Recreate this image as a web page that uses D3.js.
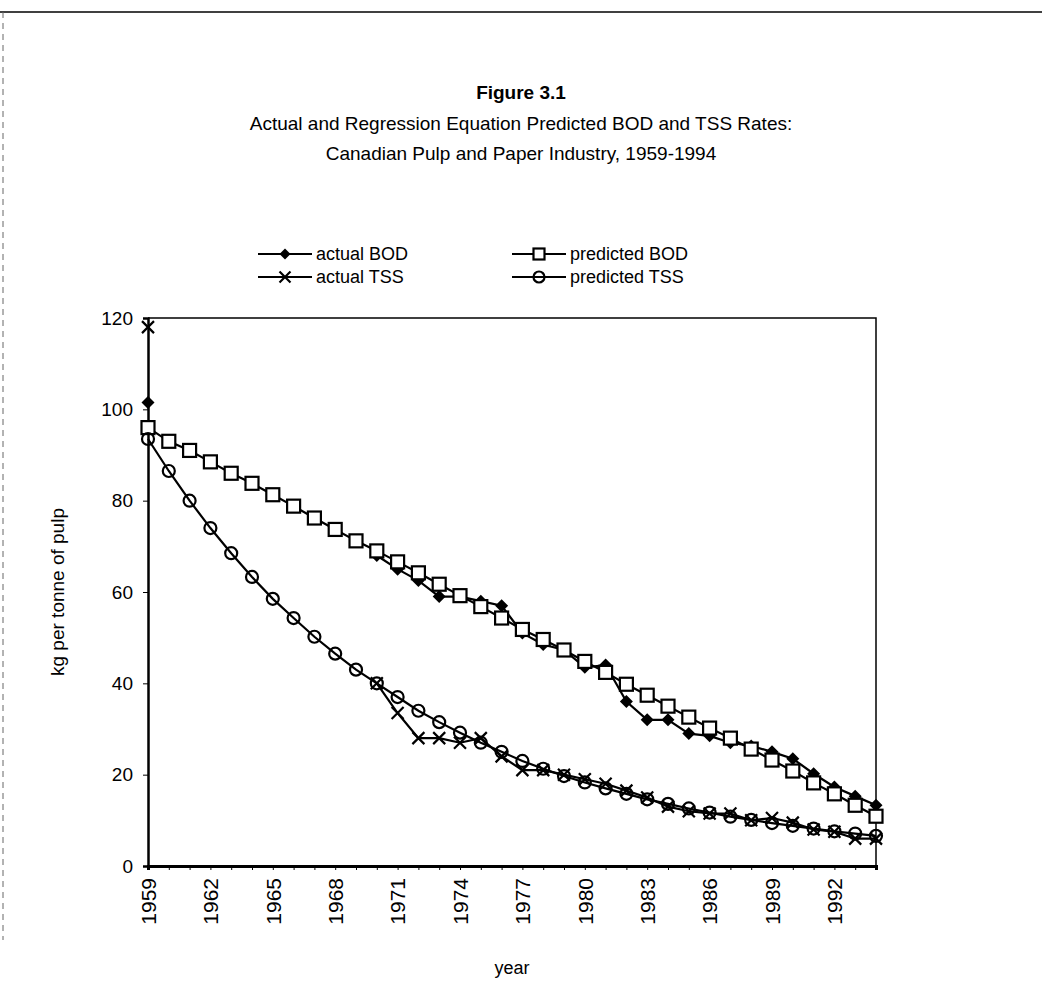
<!DOCTYPE html>
<html>
<head>
<meta charset="utf-8">
<script src="https://cdn.jsdelivr.net/npm/d3@7"></script>
<style>
  body { margin: 0; background: #fff; }
  text { font-family: "Liberation Sans", Arial, sans-serif; fill: #000; }
</style>
</head>
<body>
<svg id="chart" width="1042" height="992"></svg>
<script>
const years = d3.range(1959, 1995);
const yearTicks = [1959, 1962, 1965, 1968, 1971, 1974, 1977, 1980, 1983, 1986, 1989, 1992];
const valueTicks = [0, 20, 40, 60, 80, 100, 120];

// null = no observation for that year
const actualBOD = [101.5, null, null, null, null, null, null, null, null, null, null,
  68, 65, 62.5, 59, 59, 58, 57, 51, 48.5, 47.3, 43.5, 44, 36, 32, 32, 29, 28.5, 27, 26.3, 25, 23.5, 20.2, 17.3, 15.3, 13.3];
const actualTSS = [118, null, null, null, null, null, null, null, null, null, null,
  40, 33.5, 28, 28, 27, 28, 24, 21, 21, 20, 19, 18, 16.5, 15, 13, 12, 11.5, 11.5, 10, 10.5, 9.5, 8, 7.5, 6, 6];
const predictedBOD = [96, 93, 91, 88.5, 86, 83.8, 81.3, 78.8, 76.2, 73.7, 71.2, 69, 66.6, 64.2, 61.7, 59.2, 56.8, 54.3,
  51.8, 49.6, 47.3, 44.8, 42.4, 39.8, 37.4, 35, 32.6, 30.2, 28, 25.6, 23.2, 20.8, 18.2, 15.8, 13.3, 10.9];
const predictedTSS = [93.5, 86.5, 80, 74, 68.5, 63.3, 58.5, 54.3, 50.2, 46.5, 43, 40, 37, 34, 31.5, 29.2, 27, 25,
  23, 21.3, 19.7, 18.3, 17, 15.8, 14.6, 13.6, 12.6, 11.7, 10.8, 10.1, 9.4, 8.8, 8.2, 7.6, 7.1, 6.6];

const seriesNames = ["actual BOD", "actual TSS", "predicted BOD", "predicted TSS"];
const seriesValues = [actualBOD, actualTSS, predictedBOD, predictedTSS];
const seriesMarkers = ["diamond", "cross", "square", "circle"];

const svg = d3.select("#chart");
const margin = { top: 318, right: 166, bottom: 126, left: 148 };
const width = 1042 - margin.left - margin.right;
const height = 992 - margin.top - margin.bottom;

// scan frame edges
svg.append("line").attr("x1", 0).attr("x2", 1042).attr("y1", 12).attr("y2", 12)
  .attr("stroke", "#000").attr("stroke-width", 1.5);
svg.append("line").attr("x1", 3).attr("x2", 3).attr("y1", 12).attr("y2", 940)
  .attr("stroke", "#666").attr("stroke-width", 1).attr("stroke-dasharray", "6,5");

// titles
const titles = [
  ["Figure 3.1", 99, "bold"],
  ["Actual and Regression Equation Predicted BOD and TSS Rates:", 130, "normal"],
  ["Canadian Pulp and Paper Industry, 1959-1994", 160, "normal"]
];
svg.selectAll(".title").data(titles).enter().append("text")
  .attr("class", "title")
  .attr("x", 521).attr("y", d => d[1])
  .attr("text-anchor", "middle")
  .style("font-size", "19px")
  .style("font-weight", d => d[2])
  .text(d => d[0]);

const x = d3.scaleLinear().domain([1959, 1994]).range([0, width]);
const y = d3.scaleLinear().domain([0, 120]).range([height, 0]);

const g = svg.append("g").attr("transform", `translate(${margin.left},${margin.top})`);

// plot frame (top and right)
g.append("path").attr("d", `M0,0H${width}V${height}`)
  .attr("fill", "none").attr("stroke", "#000").attr("stroke-width", 1.5);

// y axis
const yAxis = g.append("g").call(d3.axisLeft(y).tickValues(valueTicks).tickSize(5).tickPadding(10));
yAxis.select(".domain").attr("stroke-width", 2.5);
yAxis.selectAll("text").style("font-size", "19px");

// x axis: minor tick every year, labels every 3 years
const xAxis = g.append("g").attr("transform", `translate(0,${height})`)
  .call(d3.axisBottom(x).tickValues(years).tickSize(4).tickFormat(d => yearTicks.includes(d) ? d : ""));
xAxis.select(".domain").attr("stroke-width", 3);
xAxis.selectAll("text")
  .style("font-size", "21px")
  .attr("text-anchor", "end")
  .attr("transform", "rotate(-90)")
  .attr("x", -12).attr("y", 0).attr("dy", "0.35em");

// axis titles
svg.append("text")
  .attr("transform", `translate(64,${margin.top + height / 2}) rotate(-90)`)
  .attr("text-anchor", "middle")
  .style("font-size", "19px")
  .text("kg per tonne of pulp");
svg.append("text")
  .attr("x", margin.left + width / 2).attr("y", 974)
  .attr("text-anchor", "middle")
  .style("font-size", "18px")
  .text("year");

function drawMarker(sel, type, s) {
  if (type === "diamond") {
    sel.append("path").attr("d", `M0,${-s}L${s},0L0,${s}L${-s},0Z`).attr("fill", "#000");
  } else if (type === "square") {
    sel.append("rect").attr("x", -s).attr("y", -s).attr("width", 2 * s).attr("height", 2 * s)
      .attr("fill", "#fff").attr("stroke", "#000").attr("stroke-width", 2.2);
  } else if (type === "circle") {
    sel.append("circle").attr("r", s).attr("fill", "none").attr("stroke", "#000").attr("stroke-width", 2.2);
  } else {
    sel.append("path").attr("d", `M${-s},${-s}L${s},${s}M${-s},${s}L${s},${-s}`)
      .attr("stroke", "#000").attr("stroke-width", 2.2);
  }
}
const markerSize = { diamond: 6.5, cross: 6, square: 6.5, circle: 6 };

const line = d3.line()
  .defined(d => d[1] !== null)
  .x(d => x(d[0]))
  .y(d => y(d[1]));

seriesValues.forEach((vals, i) => {
  const pts = years.map((yr, k) => [yr, vals[k]]);
  g.append("path").datum(pts)
    .attr("d", line)
    .attr("fill", "none").attr("stroke", "#000").attr("stroke-width", 2.2);
  g.selectAll(".m" + i).data(pts.filter(d => d[1] !== null)).enter().append("g")
    .attr("class", "m" + i)
    .attr("transform", d => `translate(${x(d[0])},${y(d[1])})`)
    .each(function () { drawMarker(d3.select(this), seriesMarkers[i], markerSize[seriesMarkers[i]]); });
});

// legend
const legendPos = [[258, 254], [258, 277], [512, 254], [512, 277]];
const legend = svg.selectAll(".legend").data(seriesNames).enter().append("g")
  .attr("class", "legend")
  .attr("transform", (d, i) => `translate(${legendPos[i][0]},${legendPos[i][1]})`);
legend.append("line").attr("x1", 0).attr("x2", 54).attr("y1", 0).attr("y2", 0)
  .attr("stroke", "#000").attr("stroke-width", 2);
legend.append("g").attr("transform", "translate(27,0)")
  .each(function (d, i) { drawMarker(d3.select(this), seriesMarkers[i], 5.5); });
legend.append("text")
  .attr("x", 58).attr("y", 0).attr("dy", "0.35em")
  .style("font-size", "18px")
  .text(d => d);
</script>
</body>
</html>
